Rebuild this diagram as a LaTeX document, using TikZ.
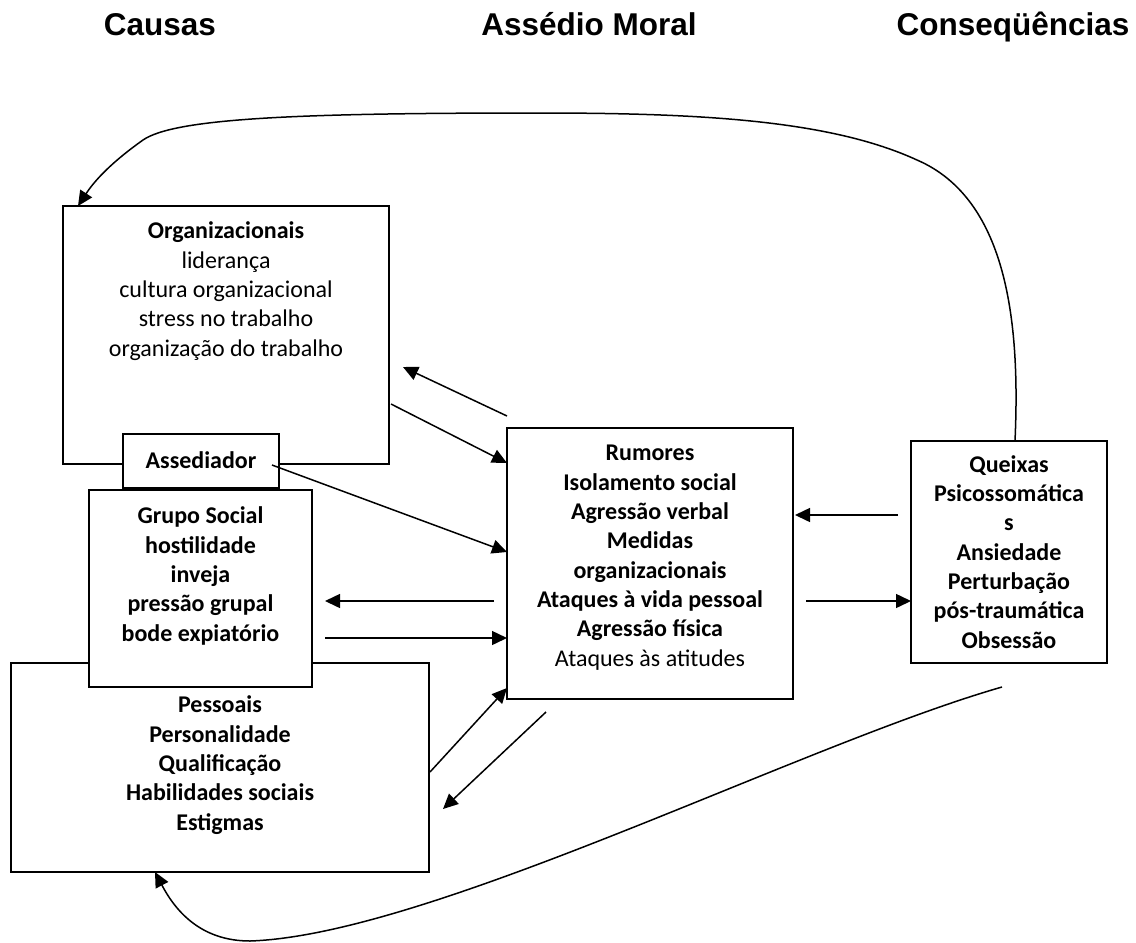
\documentclass[tikz,border=0pt]{standalone}
\usepackage{fontspec}
\setmainfont{Carlito}
\newfontfamily\hdrfont{Liberation Sans}
\usetikzlibrary{arrows.meta,calc}
\begin{document}
\begin{tikzpicture}[x=1pt,y=-1pt,
  box/.style={draw, line width=1.6pt, fill=white, inner sep=0pt, outer sep=0pt},
  txt/.style={align=center, inner sep=0pt, anchor=base, font=\fontsize{24}{29.3}\selectfont},
  btxt/.style={txt, font=\fontsize{24}{29.3}\selectfont\bfseries},
  hdr/.style={inner sep=0pt, anchor=base, font=\hdrfont\bfseries\fontsize{31.5}{36}\selectfont},
  conn/.style={line width=1.5pt, -{Triangle[length=15pt,width=14pt]}},
]
\useasboundingbox (0,0) rectangle (1136,943);

% headers
\node[hdr] (hC) at (160,35) {Causas};
\node[hdr] (hA) at (589,35) {Assédio Moral};
\node[hdr] (hK) at (1013,35) {Conseqüências};

% boxes
\node[box, minimum width=326pt, minimum height=258pt] (org) at (226,335) {};
\node[box, minimum width=418pt, minimum height=209pt] (pes) at (220,767.5) {};
\node[box, minimum width=156pt, minimum height=54pt] (ase) at (201,461) {};
\node[box, minimum width=223pt, minimum height=197pt] (grp) at (200.5,588.5) {};
\node[box, minimum width=286pt, minimum height=271pt] (mid) at (650,563.5) {};
\node[box, minimum width=196pt, minimum height=222pt] (rgt) at (1009,552) {};

% texts (base anchor = baseline of the last line)
\node[txt] (orgT) at (226,356) {\textbf{Organizacionais}\\liderança\\cultura organizacional\\stress no trabalho\\organização do trabalho};
\node[txt] (aseT) at (201,468) {\textbf{Assediador}};
\node[btxt] (grpT) at (200.5,641) {Grupo Social\\hostilidade\\inveja\\pressão grupal\\bode expiatório};
\node[btxt] (pesT) at (220,830) {Pessoais\\Personalidade\\Qualificação\\Habilidades sociais\\Estigmas};
\node[txt] (midT) at (650,666) {\textbf{Rumores}\\\textbf{Isolamento social}\\\textbf{Agressão verbal}\\\textbf{Medidas}\\\textbf{organizacionais}\\\textbf{Ataques à vida pessoal}\\\textbf{Agressão física}\\Ataques às atitudes};
\node[btxt] (rgtT) at (1009,648) {Queixas\\Psicossomática\\s\\Ansiedade\\Perturbação\\pós-traumática\\Obsessão};

% straight connectors
\draw[conn] ($(org.north east)+(2,198)$) -- ($(mid.north west)+(0,35)$);
\draw[conn] ($(mid.north west)+(0,-12)$) -- ($(org.north east)+(14,161)$);
\draw[conn] ($(ase.north east)+(-7,31)$) -- ($(mid.north west)+(0,124)$);
\draw[conn] ($(mid.north west)+(-13,173)$) -- ($(grp.north east)+(13,111)$);
\draw[conn] ($(grp.north east)+(13,148)$) -- ($(mid.north west)+(0,210)$);
\draw[conn] ($(mid.north east)+(13,173)$) -- ($(rgt.north west)+(0,160)$);
\draw[conn] ($(rgt.north west)+(-13,74)$) -- ($(mid.north east)+(2,87)$);
\draw[conn] ($(pes.north east)+(1,109)$) -- ($(mid.south west)+(0,-11)$);
\draw[conn] ($(mid.south west)+(39,13)$) -- ($(pes.north east)+(14,146)$);

% feedback curves
\coordinate (t0) at ($(rgt.north west)+(104,0)$);
\coordinate (t1) at ($(org.north west)+(15,0)$);
\draw[conn] (t0) .. controls (1020,330) and (1010,200) .. (917,160)
  .. controls (830,120) and (700,113) .. (538,113)
  .. controls (300,113) and (175,118) .. (143,140)
  .. controls (112,162) and (95,180) .. (t1);

\coordinate (b0) at ($(rgt.south west)+(91,24)$);
\coordinate (b1) at ($(pes.south west)+(144,0)$);
\draw[conn] (b0) .. controls (800,745) and (430,935) .. (250,941)
  .. controls (200,941) and (175,910) .. (b1);
\end{tikzpicture}
\end{document}
